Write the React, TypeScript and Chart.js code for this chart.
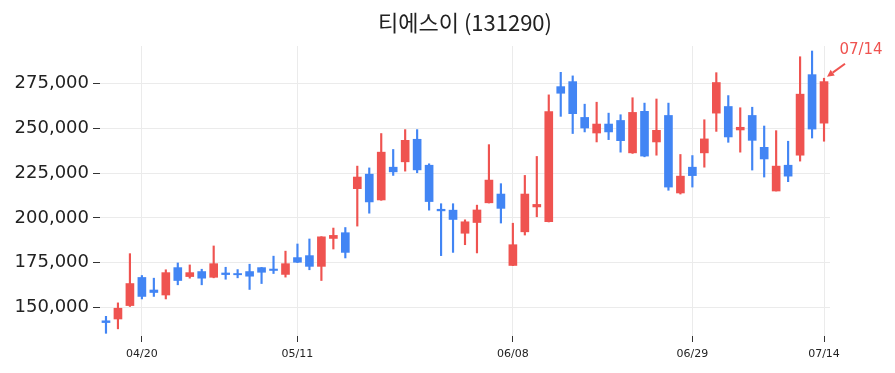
import React, { useEffect, useRef } from "react";
import { Chart, registerables } from "chart.js";

Chart.register(...registerables);

const TITLE = "티에스이 (131290)";

const DATES = [
  "04/17", "04/18", "04/19", "04/20", "04/21", "04/24", "04/25", "04/26", "04/27", "04/28",
  "05/02", "05/03", "05/04", "05/08", "05/09", "05/10", "05/11", "05/12", "05/15", "05/16",
  "05/17", "05/18", "05/19", "05/22", "05/23", "05/24", "05/25", "05/26", "05/30", "05/31",
  "06/01", "06/02", "06/05", "06/07", "06/08", "06/09", "06/12", "06/13", "06/14", "06/15",
  "06/16", "06/19", "06/20", "06/21", "06/22", "06/23", "06/26", "06/27", "06/28", "06/29",
  "06/30", "07/03", "07/04", "07/05", "07/06", "07/07", "07/10", "07/11", "07/12", "07/13",
  "07/14",
];

const OPEN = [
  142500, 143500, 151000, 166700, 159700, 156900, 172200, 167200, 170000, 166800,
  169200, 168900, 170000, 172200, 171400, 168400, 177800, 178900, 172900, 188500,
  191700, 216300, 224400, 210000, 228300, 231300, 243900, 229400, 204800, 204300,
  191400, 197400, 208400, 213300, 173400, 192200, 206100, 197800, 273300, 276100,
  256100, 247400, 252400, 254400, 236300, 259500, 242400, 257200, 213900, 228300,
  236300, 258500, 262200, 249100, 257200, 239400, 215000, 229400, 235000, 280000,
  252900,
];

const HIGH = [
  145000, 152500, 180000, 167800, 166300, 171000, 174800, 173700, 171300, 184300,
  172400, 171100, 174100, 172300, 178600, 181400, 185400, 188200, 189500, 194300,
  194600, 228900, 227900, 247100, 238200, 249300, 249300, 230200, 207900, 207900,
  198900, 207100, 240900, 219100, 197000, 223700, 234300, 268700, 281300, 279300,
  263500, 264600, 258500, 257600, 267100, 264100, 266400, 264100, 235400, 234800,
  254800, 281100, 268300, 261500, 261800, 251300, 248700, 242800, 290000, 293200,
  278000,
];

const LOW = [
  135500, 138000, 150500, 154700, 156100, 154700, 162600, 166300, 162600, 166500,
  165700, 166500, 160000, 163300, 168900, 166900, 175000, 171000, 165000, 182600,
  177600, 195400, 202600, 209800, 223700, 226100, 225200, 204300, 178900, 180700,
  185000, 180400, 208300, 197100, 173300, 190400, 200600, 197700, 256700, 247100,
  248000, 242400, 243700, 236700, 236000, 234100, 235000, 215400, 213300, 217200,
  228300, 248300, 242200, 236700, 226700, 222800, 215000, 220200, 231700, 244600,
  242800,
];

const CLOSE = [
  141500, 149500, 163300, 156100, 158300, 169400, 165000, 169400, 166300, 174400,
  168300, 168200, 167400, 169600, 170600, 174400, 175200, 172900, 189400, 190200,
  180700, 222800, 208900, 236700, 225700, 243300, 226800, 209100, 203900, 199100,
  197800, 204400, 221100, 205300, 185000, 213300, 207500, 259400, 269600, 258200,
  250200, 252400, 248000, 243100, 258900, 234500, 248900, 217200, 223300, 223600,
  244100, 275600, 245200, 250600, 243300, 232900, 228900, 223300, 269100, 249600,
  276100,
];

const TICK_LABELS = ["04/20", "05/11", "06/08", "06/29", "07/14"];
const Y_TICKS = [150000, 175000, 200000, 225000, 250000, 275000];
const Y_MIN = 134000;
const Y_MAX = 296000;
const LAST_LABEL = "07/14";

const UP = "rgb(239, 83, 80)";
const DOWN = "rgb(66, 133, 244)";
const FONT = "'DejaVu Sans', sans-serif";

export default function App() {
  const ref = useRef<HTMLCanvasElement | null>(null);

  useEffect(() => {
    document.body.style.margin = "0";
    const canvas = ref.current;
    if (!canvas) return;

    const colors = OPEN.map((o, i) => (CLOSE[i] >= o ? UP : DOWN));

    const lastLabelPlugin = {
      id: "lastLabel",
      afterDatasetsDraw(chart: any) {
        const { ctx, scales } = chart;
        const i = DATES.length - 1;
        const px = scales.x.getPixelForValue(i);
        const py = scales.y.getPixelForValue(HIGH[i]);
        const tipX = px + 3;
        const tipY = py - 1.5;
        const tailX = px + 21;
        const tailY = py - 14.5;
        ctx.save();
        ctx.strokeStyle = UP;
        ctx.fillStyle = UP;
        ctx.lineWidth = 2;
        const ang = Math.atan2(tipY - tailY, tipX - tailX);
        const hl = 7;
        const baseX = tipX - Math.cos(ang) * hl;
        const baseY = tipY - Math.sin(ang) * hl;
        ctx.beginPath();
        ctx.moveTo(tailX, tailY);
        ctx.lineTo(baseX, baseY);
        ctx.stroke();
        ctx.beginPath();
        ctx.moveTo(tipX, tipY);
        ctx.lineTo(baseX + Math.cos(ang + Math.PI / 2) * 3.5, baseY + Math.sin(ang + Math.PI / 2) * 3.5);
        ctx.lineTo(baseX + Math.cos(ang - Math.PI / 2) * 3.5, baseY + Math.sin(ang - Math.PI / 2) * 3.5);
        ctx.closePath();
        ctx.fill();
        ctx.font = "15px " + FONT;
        ctx.textAlign = "center";
        ctx.textBaseline = "middle";
        ctx.fillText(LAST_LABEL, px + 37, py - 28);
        ctx.restore();
      },
    };

    const chart = new Chart(canvas, {
      type: "bar",
      data: {
        labels: DATES,
        datasets: [
          {
            label: "wick",
            data: DATES.map((_, i) => [LOW[i], HIGH[i]]),
            backgroundColor: colors,
            barThickness: 1.5,
            grouped: false,
            order: 2,
          } as any,
          {
            label: "body",
            data: DATES.map((_, i) => [OPEN[i], CLOSE[i]]),
            backgroundColor: colors,
            barThickness: 8,
            grouped: false,
            order: 1,
          } as any,
        ],
      },
      options: {
        responsive: false,
        animation: false,
        layout: { padding: { left: 0, right: 65, top: 0, bottom: 0 } },
        plugins: {
          legend: { display: false },
          tooltip: { enabled: false },
          title: {
            display: true,
            text: TITLE,
            fullSize: false,
            color: "#222",
            font: { family: "'Noto Sans CJK KR', sans-serif", size: 22, weight: "normal" },
            padding: { top: 9, bottom: 10.6 },
          },
        },
        scales: {
          x: {
            type: "category",
            offset: true,
            grid: {
              offset: false,
              color: (c: any) => (TICK_LABELS.includes(DATES[c.index]) ? "#ebebeb" : "rgba(0,0,0,0)"),
              tickColor: (c: any) => (TICK_LABELS.includes(DATES[c.index]) ? "#333" : "rgba(0,0,0,0)"),
              tickLength: 6,
            },
            border: { display: false },
            ticks: {
              autoSkip: false,
              maxRotation: 0,
              padding: 6,
              color: "#222",
              font: { family: FONT, size: 11 },
              callback: (v: any, i: number) => (TICK_LABELS.includes(DATES[i]) ? DATES[i] : ""),
            },
            afterFit: (s: any) => {
              s.height = 37;
            },
          },
          y: {
            min: Y_MIN,
            max: Y_MAX,
            grid: { color: "#ebebeb", tickColor: "#333", tickLength: 7 },
            border: { display: false },
            afterBuildTicks: (s: any) => {
              s.ticks = Y_TICKS.map((v) => ({ value: v }));
            },
            ticks: {
              padding: 4,
              color: "#222",
              font: { family: FONT, size: 18 },
              callback: (v: any) => Number(v).toLocaleString("en-US"),
            },
            afterFit: (s: any) => {
              s.width = 100;
            },
          },
        },
      },
      plugins: [lastLabelPlugin],
    });

    return () => chart.destroy();
  }, []);

  return (
    <div style={{ width: 895, height: 373 }}>
      <canvas ref={ref} width={895} height={373} style={{ display: "block" }} />
    </div>
  );
}
